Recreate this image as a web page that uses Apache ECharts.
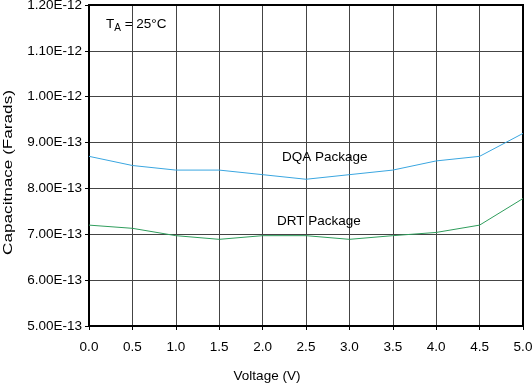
<!DOCTYPE html>
<html>
<head>
<meta charset="utf-8">
<script src="https://cdn.jsdelivr.net/npm/echarts@6/dist/echarts.min.js"></script>
<style>html,body{margin:0;padding:0;background:#fff}#c{width:532px;height:383px}</style>
</head>
<body>
<div id="c"></div>
<script>
// Voltage (V)
const voltage = [0.0, 0.5, 1.0, 1.5, 2.0, 2.5, 3.0, 3.5, 4.0, 4.5, 5.0];
// Capacitance in units of 1E-13 Farads
const dqaCapE13 = [8.70, 8.50, 8.40, 8.40, 8.30, 8.20, 8.30, 8.40, 8.60, 8.70, 9.20];
const drtCapE13 = [7.20, 7.13, 6.97, 6.89, 6.97, 6.97, 6.89, 6.97, 7.04, 7.20, 7.78];
const xTicks = ['0.0','0.5','1.0','1.5','2.0','2.5','3.0','3.5','4.0','4.5','5.0'];
const yTicks = ['5.00E-13','6.00E-13','7.00E-13','8.00E-13','9.00E-13','1.00E-12','1.10E-12','1.20E-12'];

const font = 'Liberation Sans, Arial, Helvetica, sans-serif';
const fs = 13.5;
const chart = echarts.init(document.getElementById('c'));
chart.setOption({
  animation: false,
  grid: {left: 89, right: 9, top: 5, bottom: 57, containLabel: false, outerBoundsMode: 'none',
    show: true, borderColor: '#000', borderWidth: 2, backgroundColor: 'transparent', z: 3},
  xAxis: {
    type: 'value', min: 0, max: 5, interval: 0.5,
    axisLine: {show: true, lineStyle: {color: '#000', width: 2}},
    axisTick: {show: true, length: 4, lineStyle: {color: '#000', width: 1}},
    axisLabel: {fontFamily: font, fontSize: fs, color: '#000', margin: 14,
      formatter: v => xTicks[Math.round(v / 0.5)]},
    splitLine: {show: true, lineStyle: {color: '#444', width: 1}}
  },
  yAxis: {
    type: 'value', min: 5, max: 12, interval: 1,
    axisLine: {show: true, lineStyle: {color: '#000', width: 2}},
    axisTick: {show: true, length: 4, lineStyle: {color: '#000', width: 1}},
    axisLabel: {fontFamily: font, fontSize: fs, color: '#000', margin: 7,
      formatter: v => yTicks[Math.round(v - 5)]},
    splitLine: {show: true, lineStyle: {color: '#444', width: 1}}
  },
  series: [
    {type: 'line', name: 'DQA Package', data: voltage.map((v, i) => [v, dqaCapE13[i]]),
     showSymbol: false, lineStyle: {color: '#3aa6e0', width: 1}, z: 4},
    {type: 'line', name: 'DRT Package', data: voltage.map((v, i) => [v, drtCapE13[i]]),
     showSymbol: false, lineStyle: {color: '#2f9d5c', width: 1}, z: 4}
  ],
  graphic: [
    {type: 'text', x: 106, y: 24, z: 10, style: {
      text: 'T{s|A} = 25°C', fontFamily: font, fontSize: fs, fill: '#000', verticalAlign: 'middle',
      rich: {s: {fontFamily: font, fontSize: 10, fill: '#000', padding: [8, 0, 0, 0]}}
    }},
    {type: 'text', x: 282, y: 157, z: 10, style: {text: 'DQA Package', fontFamily: font, fontSize: fs, fill: '#000', verticalAlign: 'middle'}},
    {type: 'text', x: 277, y: 221, z: 10, style: {text: 'DRT Package', fontFamily: font, fontSize: fs, fill: '#000', verticalAlign: 'middle'}},
    {type: 'text', x: 267, y: 376, z: 10, style: {text: 'Voltage (V)', fontFamily: font, fontSize: fs, fill: '#000', align: 'center', verticalAlign: 'middle'}},
    {type: 'text', x: 8.5, y: 172.5, rotation: Math.PI / 2, scaleX: 1.27, z: 10,
     style: {text: 'Capacitnace (Farads)', fontFamily: font, fontSize: fs, fill: '#000', align: 'center', verticalAlign: 'middle'}}
  ]
});
</script>
</body>
</html>
